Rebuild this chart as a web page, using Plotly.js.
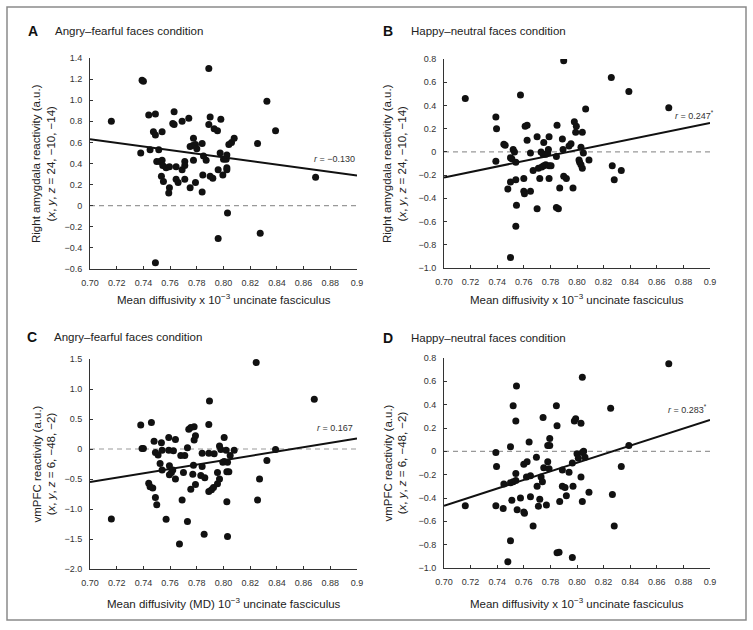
<!DOCTYPE html>
<html>
<head>
<meta charset="utf-8">
<script src="https://cdn.plot.ly/plotly-3.0.1.min.js"></script>
<style>
html, body { margin:0; padding:0; background:#fff; }
#fig { width:753px; height:630px; }
</style>
</head>
<body>
<div id="fig"></div>
<script>
// mean diffusivity (x) and reactivity (y)
var mdA = [0.716,0.739,0.740,0.738,0.744,0.749,0.7475,0.749,0.745,0.7515,0.754,0.750,0.7525,0.754,0.7535,0.755,0.7545,0.757,0.7595,0.7595,0.759,0.763,0.762,0.763,0.7645,0.7645,0.766,0.769,0.774,0.769,0.771,0.771,0.771,0.775,0.777,0.779,0.780,0.775,0.7775,0.7775,0.779,0.784,0.7845,0.784,0.785,0.787,0.789,0.790,0.789,0.790,0.792,0.793,0.7955,0.796,0.796,0.7975,0.798,0.7995,0.800,0.802,0.8025,0.8025,0.8025,0.804,0.806,0.808,0.803,0.8255,0.8275,0.8325,0.839,0.869,0.749];
var amyA = [0.80,1.19,1.18,0.50,0.86,0.87,0.70,0.67,0.53,0.53,0.70,0.42,0.42,0.43,0.28,0.23,0.38,0.36,0.37,0.17,0.12,0.89,0.78,0.77,0.37,0.25,0.22,0.80,0.83,0.34,0.42,0.38,0.25,0.56,0.57,0.58,0.54,0.17,0.64,0.43,0.22,0.59,0.29,0.13,0.47,0.43,1.30,0.84,0.77,0.28,0.26,0.73,0.71,0.34,-0.31,0.50,0.82,0.29,0.44,0.44,0.48,0.36,0.34,0.58,0.60,0.64,-0.07,0.59,-0.26,0.99,0.71,0.27,-0.54];

var mdB = [0.716,0.739,0.7395,0.739,0.745,0.746,0.750,0.751,0.752,0.753,0.754,0.750,0.748,0.754,0.7545,0.754,0.750,0.7575,0.760,0.760,0.7605,0.761,0.7625,0.7625,0.765,0.765,0.767,0.770,0.770,0.771,0.772,0.773,0.7745,0.7735,0.775,0.775,0.7765,0.778,0.7765,0.779,0.779,0.7785,0.779,0.7805,0.785,0.7845,0.7845,0.786,0.787,0.789,0.7895,0.790,0.790,0.792,0.794,0.7955,0.797,0.798,0.799,0.7995,0.8015,0.802,0.803,0.803,0.804,0.804,0.8048,0.8065,0.809,0.8265,0.8258,0.828,0.8333,0.839,0.869];
var amyB = [0.46,0.30,0.20,-0.08,0.066,0.057,-0.05,-0.06,0.02,0.0,-0.09,-0.26,-0.32,-0.24,-0.46,-0.64,-0.91,0.49,-0.23,-0.34,-0.36,0.22,0.23,0.10,-0.01,-0.34,-0.16,0.13,-0.49,-0.14,-0.23,0.0,-0.02,-0.13,-0.12,0.08,-0.02,-0.01,-0.11,-0.12,0.13,0.02,-0.23,-0.12,0.23,-0.04,-0.48,-0.49,-0.31,0.11,0.02,0.786,-0.21,-0.23,0.05,0.07,-0.31,0.26,0.17,0.22,-0.07,-0.09,0.04,-0.11,-0.14,0.17,-0.01,0.37,-0.07,-0.12,0.64,-0.24,-0.16,0.52,0.38];

var mdC = [0.716,0.738,0.739,0.740,0.746,0.744,0.745,0.747,0.748,0.749,0.751,0.749,0.750,0.7525,0.7535,0.754,0.754,0.757,0.759,0.759,0.7595,0.7595,0.761,0.762,0.7625,0.764,0.764,0.768,0.771,0.769,0.770,0.773,0.773,0.774,0.7755,0.7755,0.777,0.7775,0.778,0.779,0.779,0.778,0.767,0.784,0.784,0.783,0.786,0.7855,0.789,0.789,0.7895,0.789,0.791,0.7925,0.793,0.7955,0.7955,0.797,0.797,0.798,0.7995,0.8005,0.8005,0.802,0.8025,0.8025,0.804,0.803,0.803,0.805,0.808,0.8245,0.8255,0.827,0.8325,0.839,0.868];
var vmC = [-1.165,0.40,0.01,0.01,0.44,-0.57,-0.63,-0.65,0.13,-0.06,-0.10,-0.81,-0.93,-0.24,0.105,-0.02,-0.35,-1.17,0.19,-0.02,-0.28,-0.43,-0.39,-0.35,-0.03,0.16,-0.50,-0.11,-0.11,-0.85,-0.39,0.02,-1.21,0.33,0.36,-0.67,-0.42,-0.27,0.15,0.22,-0.59,0.37,-1.585,-0.07,-0.29,-0.44,-0.48,-1.42,-0.07,0.41,0.80,-0.71,-0.68,-0.64,-0.08,-0.39,-0.58,-0.50,0.05,-0.01,-0.22,0.19,-0.21,-0.02,-0.88,-0.38,-0.38,-0.22,-1.46,-0.11,-0.02,1.44,-0.85,-0.50,-0.19,-0.01,0.83];

var mdD = [0.716,0.739,0.7395,0.739,0.745,0.7445,0.748,0.750,0.750,0.750,0.752,0.751,0.752,0.754,0.754,0.754,0.7545,0.755,0.7575,0.760,0.7625,0.760,0.7605,0.762,0.764,0.765,0.765,0.767,0.7695,0.770,0.771,0.772,0.773,0.774,0.7745,0.775,0.777,0.778,0.778,0.7795,0.7795,0.779,0.7845,0.785,0.787,0.785,0.7865,0.789,0.789,0.791,0.792,0.794,0.7965,0.7965,0.797,0.798,0.799,0.800,0.801,0.803,0.803,0.804,0.804,0.804,0.805,0.806,0.809,0.8253,0.8266,0.828,0.8333,0.839,0.869];
var vmD = [-0.466,-0.01,-0.13,-0.466,-0.28,-0.49,-0.946,0.04,-0.766,-0.27,-0.26,-0.42,0.39,-0.19,-0.25,0.26,0.56,-0.50,-0.40,-0.11,-0.09,-0.52,-0.53,-0.22,0.08,-0.21,-0.39,-0.64,-0.05,-0.30,-0.47,-0.41,-0.22,-0.26,0.29,-0.14,-0.46,-0.09,0.05,0.05,0.11,-0.15,0.39,0.22,-0.43,-0.87,-0.866,-0.16,-0.30,-0.31,-0.38,-0.18,-0.10,-0.91,-0.30,0.26,0.28,-0.02,-0.06,0.24,-0.22,0.634,-0.43,-0.01,0.0,-0.05,-0.35,0.37,-0.37,-0.64,-0.13,0.05,0.75];

// regression lines, value at x = 0.70 and x = 0.90
var fitX = [0.70, 0.90];
var fitA = [0.63, 0.285];
var fitB = [-0.22, 0.25];
var fitC = [-0.55, 0.175];
var fitD = [-0.466, 0.27];

var rLabels = ['<i>r</i> = \u22120.130', '<i>r</i> = 0.247<sup>*</sup>', '<i>r</i> = 0.167', '<i>r</i> = 0.283<sup>*</sup>'];
var letters = ['A', 'B', 'C', 'D'];
var heads = ['Angry\u2013fearful faces condition', 'Happy\u2013neutral faces condition', 'Angry\u2013fearful faces condition', 'Happy\u2013neutral faces condition'];
var yTitleAmy = 'Right amygdala reactivity (a.u.)<br>(<i>x</i>, <i>y</i>, <i>z</i> = 24, \u221210, \u221214)';
var yTitleVm = 'vmPFC reactivity (a.u.)<br>(<i>x</i>, <i>y</i>, <i>z</i> = 6, \u221248, \u22122)';
var xTitleMD = 'Mean diffusivity x 10<sup>\u22123</sup> uncinate fasciculus';
var xTitleMD2 = 'Mean diffusivity (MD) 10<sup>\u22123</sup> uncinate fasciculus';

var xTicks = [0.70,0.72,0.74,0.76,0.78,0.80,0.82,0.84,0.86,0.88,0.90];
var xTickText = ['0.70','0.72','0.74','0.76','0.78','0.80','0.82','0.84','0.86','0.88','0.9'];
var yTicksA = [1.4,1.2,1.0,0.8,0.6,0.4,0.2,0,-0.2,-0.4,-0.6];
var yTextA = ['1.4','1.2','1.0','0.8','0.6','0.4','0.2','0','\u22120.2','\u22120.4','\u22120.6'];
var yTicksB = [0.8,0.6,0.4,0.2,0,-0.2,-0.4,-0.6,-0.8,-1.0];
var yTextB = ['0.8','0.6','0.4','0.2','0','\u22120.2','\u22120.4','\u22120.6','\u22120.8','\u22121.0'];
var yTicksC = [1.5,1.0,0.5,0,-0.5,-1.0,-1.5,-2.0];
var yTextC = ['1.5','1.0','0.5','0','\u22120.5','\u22121.0','\u22121.5','\u22122.0'];

var W = 753, H = 630;
function px(x) { return x / W; }
function py(y) { return 1 - y / H; }

var font = 'Arial, "Liberation Sans", sans-serif';

function dots(x, y, n) {
  return { x: x, y: y, xaxis: 'x' + n, yaxis: 'y' + n, type: 'scatter', mode: 'markers',
    marker: { size: 7, color: '#111' }, hoverinfo: 'skip' };
}
function fit(y, n) {
  return { x: fitX, y: y, xaxis: 'x' + n, yaxis: 'y' + n, type: 'scatter', mode: 'lines',
    line: { color: '#111', width: 2 }, hoverinfo: 'skip' };
}

function xax(domain, anchor) {
  return { domain: domain, anchor: anchor, range: [0.70, 0.90], tickvals: xTicks, ticktext: xTickText,
    ticks: 'inside', ticklen: 3, tickcolor: '#333', showline: true, linecolor: '#333', linewidth: 1,
    showgrid: false, zeroline: false, ticklabelstandoff: 5,
    tickfont: { size: 9, color: '#333', family: font } };
}
function yax(domain, anchor, range, vals, text) {
  return { domain: domain, anchor: anchor, range: range, tickvals: vals, ticktext: text,
    ticks: 'inside', ticklen: 3, tickcolor: '#333', showline: true, linecolor: '#333', linewidth: 1,
    showgrid: false, zeroline: false, ticklabelstandoff: 5,
    tickfont: { size: 9, color: '#333', family: font } };
}

var data = [
  dots(mdA, amyA, ''), fit(fitA, ''),
  dots(mdB, amyB, '2'), fit(fitB, '2'),
  dots(mdC, vmC, '3'), fit(fitC, '3'),
  dots(mdD, vmD, '4'), fit(fitD, '4')
];

var left = [px(90), px(357)], right = [px(444), px(710)];

// pixel anchors of the text in each panel
var letterPos = [[26, 31], [381, 31], [25, 337], [381, 338]];
var headPos = [[53, 31], [409, 31], [52, 337], [409, 338]];
var rPos = [[357, 159], [716, 115], [355, 428], [709, 409]];
var yTitlePos = [[43.5, 163.5], [394.5, 163.5], [43.5, 464], [394.5, 463]];
var xTitlePos = [[224, 299], [577, 299], [224, 603], [577, 603]];
var yTitles = [yTitleAmy, yTitleAmy, yTitleVm, yTitleVm];
var xTitles = [xTitleMD, xTitleMD, xTitleMD2, xTitleMD];

var ann = [];
for (var i = 0; i < 4; i++) {
  ann.push({ xref: 'paper', yref: 'paper', x: px(letterPos[i][0]), y: py(letterPos[i][1]), xanchor: 'left', yanchor: 'middle',
    text: '<b>' + letters[i] + '</b>', showarrow: false, font: { size: 14, color: '#111', family: font } });
  ann.push({ xref: 'paper', yref: 'paper', x: px(headPos[i][0]), y: py(headPos[i][1]), xanchor: 'left', yanchor: 'middle',
    text: heads[i], showarrow: false, font: { size: 11.5, color: '#222', family: font } });
  ann.push({ xref: 'paper', yref: 'paper', x: px(rPos[i][0]), y: py(rPos[i][1]), xanchor: 'right', yanchor: 'middle',
    text: rLabels[i], showarrow: false, font: { size: 9, color: '#333', family: font } });
  ann.push({ xref: 'paper', yref: 'paper', x: px(yTitlePos[i][0]), y: py(yTitlePos[i][1]), xanchor: 'center', yanchor: 'middle',
    text: yTitles[i], textangle: -90, showarrow: false, font: { size: 11.5, color: '#222', family: font } });
  ann.push({ xref: 'paper', yref: 'paper', x: px(xTitlePos[i][0]), y: py(xTitlePos[i][1]), xanchor: 'center', yanchor: 'middle',
    text: xTitles[i], showarrow: false, font: { size: 11.5, color: '#222', family: font } });
}

var shapes = [
  { type: 'rect', xref: 'paper', yref: 'paper', x0: px(7), x1: px(746), y0: py(620), y1: py(7),
    line: { color: '#8a8a8a', width: 1.5 } }
];
['', '2', '3', '4'].forEach(function (n) {
  shapes.push({ type: 'line', xref: 'x' + n + ' domain', yref: 'y' + n, x0: 0, x1: 1, y0: 0, y1: 0,
    layer: 'below', line: { color: '#999', width: 1.2, dash: '5px,4px' } });
});

var layout = {
  width: W, height: H,
  margin: { l: 0, r: 0, t: 0, b: 0 },
  paper_bgcolor: '#fff', plot_bgcolor: '#fff',
  showlegend: false, hovermode: false,
  font: { family: font },
  xaxis: xax(left, 'y'),
  yaxis: yax([py(269), py(58)], 'x', [-0.6, 1.4], yTicksA, yTextA),
  xaxis2: xax(right, 'y2'),
  yaxis2: yax([py(268), py(59)], 'x2', [-1.0, 0.8], yTicksB, yTextB),
  xaxis3: xax(left, 'y3'),
  yaxis3: yax([py(569), py(359)], 'x3', [-2.0, 1.5], yTicksC, yTextC),
  xaxis4: xax(right, 'y4'),
  yaxis4: yax([py(568), py(358)], 'x4', [-1.0, 0.8], yTicksB, yTextB),
  annotations: ann,
  shapes: shapes
};

Plotly.newPlot('fig', data, layout, { staticPlot: true, displayModeBar: false });
</script>
</body>
</html>
